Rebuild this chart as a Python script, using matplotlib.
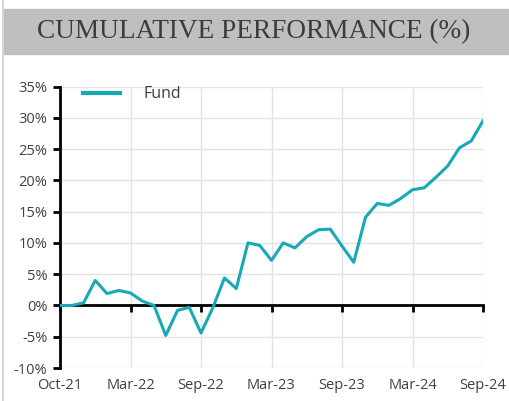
import matplotlib.pyplot as plt
from matplotlib.lines import Line2D
from matplotlib.patches import Rectangle

# Cumulative performance (%), monthly, Oct-21 .. Sep-24
fund = [
    0.0, 0.0, 0.4, 4.0, 1.9, 2.4, 2.0, 0.7, 0.0, -4.8,
    -0.8, -0.3, -4.4, -0.4, 4.4, 2.7, 10.0, 9.6, 7.2, 10.0,
    9.2, 11.0, 12.1, 12.2, 9.5, 6.9, 14.1, 16.3, 16.0, 17.1,
    18.5, 18.8, 20.5, 22.3, 25.2, 26.3, 29.5,
]
tick_idx = [0, 6, 12, 18, 24, 30, 36]
tick_labels = ["Oct-21", "Mar-22", "Sep-22", "Mar-23", "Sep-23", "Mar-24", "Sep-24"]
y_ticks = list(range(-10, 36, 5))

TEXT = "#404040"
TEAL = "#17A9B6"
GRID = "#e3e3e3"
SANS = "Open Sans"

fig = plt.figure(figsize=(5.09, 4.01), dpi=100)

# title band and left border
fig.patches.append(Rectangle((4 / 509, 1 - 54 / 401), 1, 45 / 401,
                             transform=fig.transFigure, color="#bfbfbf", zorder=0))
fig.lines.append(Line2D([2.5 / 509, 2.5 / 509], [0, 1], transform=fig.transFigure,
                        color="#d0d0d0", lw=1.2))
fig.text(0.5 - 1 / 509, 1 - 32 / 401, "CUMULATIVE PERFORMANCE (%)",
         ha="center", va="center", fontsize=19.6, color="#3c3c3c",
         family="Liberation Serif")

ax = fig.add_axes([60 / 509, 1 - 368 / 401, 423 / 509, 281.5 / 401])
x = list(range(len(fund)))
ax.plot(x, fund, color=TEAL, lw=2.2, label="Fund", zorder=3)

ax.set_xlim(0, 36)
ax.set_ylim(-10, 35)
ax.set_yticks(y_ticks)
ax.set_yticklabels([f"{v}%" for v in y_ticks])
ax.set_xticks(tick_idx)
ax.grid(True, color=GRID, lw=1)
ax.set_axisbelow(True)

for side in ("top", "right"):
    ax.spines[side].set_visible(False)
ax.spines["left"].set_linewidth(2)
# x axis line sits on the zero line, with small ticks below it
ax.spines["bottom"].set_position(("data", 0))
ax.spines["bottom"].set_linewidth(2)
ax.spines["bottom"].set_zorder(2)
ax.tick_params(axis="x", direction="out", length=5, width=2, color="black",
               labelbottom=False)
ax.tick_params(axis="y", direction="out", length=5, width=2, color="black",
               labelcolor=TEXT, labelsize=10.5, pad=4)
for lab in ax.get_yticklabels():
    lab.set_family(SANS)

# category labels along the bottom of the plot area
lab_ax = ax.secondary_xaxis("bottom")
lab_ax.set_xticks(tick_idx)
lab_ax.set_xticklabels(tick_labels)
lab_ax.tick_params(length=0, labelcolor=TEXT, labelsize=10.5, pad=7)
lab_ax.spines["bottom"].set_visible(False)
for lab in lab_ax.get_xticklabels():
    lab.set_family(SANS)

leg = ax.legend(loc="upper left", frameon=False, handlelength=2.3,
                handletextpad=1.5, bbox_to_anchor=(0.02, 1.052),
                labelcolor=TEXT, prop={"family": SANS, "size": 11.5})
for h in leg.legend_handles:
    h.set_linewidth(3)

fig.savefig("out.png", dpi=100)
